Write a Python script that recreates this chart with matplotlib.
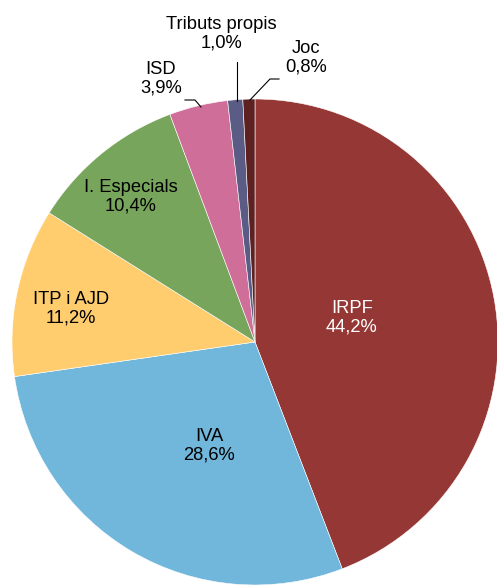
import matplotlib
matplotlib.use("Agg")
import matplotlib.pyplot as plt

labels = ["IRPF", "IVA", "ITP i AJD", "I. Especials", "ISD", "Tributs propis", "Joc"]
values = [44.2, 28.6, 11.2, 10.4, 3.9, 1.0, 0.8]
colors = ["#953735", "#71B6DB", "#FFCD6E", "#77A55B", "#D06E9A", "#5B5C85", "#5E2121"]

W, H = 497, 588
fig = plt.figure(figsize=(W / 100, H / 100), dpi=100)
ax = fig.add_axes([0, 0, 1, 1])
ax.set_xlim(0, W)
ax.set_ylim(0, H)
ax.set_aspect("equal")
ax.axis("off")

cx, cy, r = 255, H - 342, 243
ax.pie(values, colors=colors, startangle=90, counterclock=False,
       center=(cx, cy), radius=r, frame=True,
       wedgeprops=dict(edgecolor="white", linewidth=0.4))
ax.set_xlim(0, W)
ax.set_ylim(0, H)
ax.axis("off")

fmt = lambda v: f"{v:.1f}".replace(".", ",") + "%"
font = dict(family=["Liberation Sans", "DejaVu Sans"], fontsize=13.2,
            ha="center", va="center", linespacing=1.15)

# label positions (pixel coords, top-origin)
pos = [(352, 318, "white"), (209, 446, "black"), (71, 309, "black"),
       (131, 197, "black"), (161, 79, "black"), (221, 34, "black"), (306, 58, "black")]
for lab, v, (x, y, c) in zip(labels, values, pos):
    ax.text(x, H - y, f"{lab}\n{fmt(v)}", color=c, **font)

# leader lines
ax.plot([185, 195, 201], [H - 100, H - 100, H - 107], color="black", lw=0.8)
ax.plot([237, 237], [H - 62, H - 101], color="black", lw=0.8)
ax.plot([279, 270, 250], [H - 79, H - 79, H - 100], color="black", lw=0.8)

fig.savefig("out.png", dpi=100)
